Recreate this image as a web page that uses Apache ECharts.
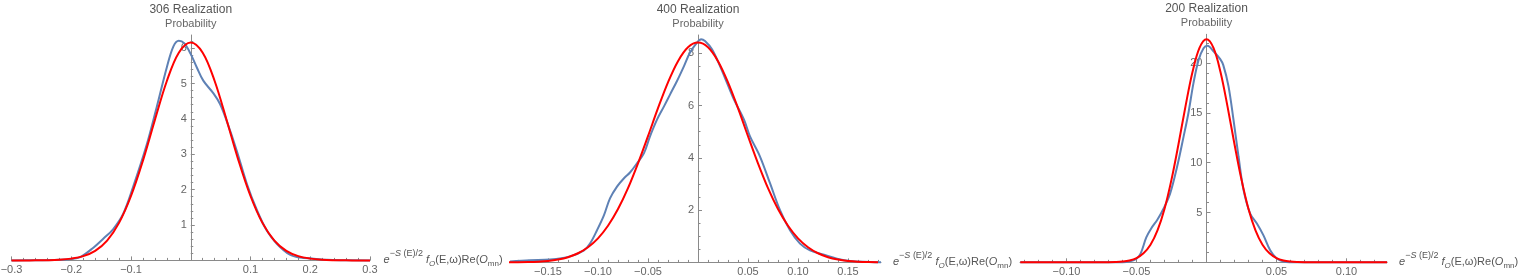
<!DOCTYPE html>
<html>
<head>
<meta charset="utf-8">
<script src="https://cdn.jsdelivr.net/npm/echarts@6/dist/echarts.min.js"></script>
<style>
html,body{margin:0;padding:0;background:#fff;}
#c{width:1518px;height:280px;}
</style>
</head>
<body>
<div id="c"></div>
<script>
// ---------- data ----------
const panelTitles = ['306 Realization', '400 Realization', '200 Realization'];
const yAxisTitle = 'Probability';

// panel 1 : 306 realizations
const xRange306 = [-0.3, 0.3];
const yRange306 = [0, 6.37];
const xTicks306 = [-0.3, -0.2, -0.1, 0.1, 0.2, 0.3];
const yTicks306 = [1, 2, 3, 4, 5, 6];
const blue306X = [-0.30,-0.26,-0.22,-0.20,-0.185,-0.163,-0.146,-0.13,-0.113,-0.096,-0.074,-0.057,-0.040,-0.029,-0.020,-0.011,0,0.010,0.021,0.038,0.049,0.060,0.077,0.094,0.111,0.127,0.144,0.166,0.183,0.206,0.228,0.25,0.30];
const blue306Y = [0,0.005,0.02,0.04,0.09,0.36,0.62,0.88,1.32,2.10,3.25,4.33,5.46,6.05,6.21,6.14,5.83,5.46,5.08,4.72,4.42,3.95,3.10,2.16,1.41,0.85,0.47,0.16,0.08,0.05,0.015,0.003,0];
const red306X = [-0.30,-0.28,-0.26,-0.24,-0.22,-0.20,-0.18,-0.16,-0.14,-0.12,-0.10,-0.08,-0.06,-0.04,-0.02,0,0.02,0.04,0.06,0.08,0.10,0.12,0.14,0.16,0.18,0.20,0.22,0.24,0.26,0.28,0.30];
const red306Y = [0,0,0.002,0.006,0.018,0.05,0.12,0.27,0.56,1.06,1.82,2.82,3.97,5.07,5.87,6.16,5.87,5.07,3.97,2.82,1.82,1.06,0.56,0.27,0.12,0.05,0.018,0.006,0.002,0,0];

// panel 2 : 400 realizations
const xRange400 = [-0.188, 0.183];
const yRange400 = [0, 8.7];
const xTicks400 = [-0.15, -0.10, -0.05, 0.05, 0.10, 0.15];
const yTicks400 = [2, 4, 6, 8];
const blue400X = [-0.188,-0.168,-0.148,-0.128,-0.114,-0.108,-0.101,-0.094,-0.088,-0.081,-0.074,-0.068,-0.061,-0.054,-0.048,-0.041,-0.034,-0.028,-0.021,-0.014,-0.008,-0.001,0.003,0.007,0.014,0.022,0.029,0.036,0.046,0.052,0.062,0.072,0.082,0.092,0.102,0.112,0.126,0.139,0.152,0.172,0.183];
const blue400Y = [0.03,0.08,0.11,0.23,0.46,0.72,1.23,1.81,2.45,2.90,3.22,3.44,3.79,4.18,4.82,5.46,5.97,6.42,6.94,7.51,8.03,8.41,8.54,8.47,8.15,7.51,6.87,6.23,5.46,4.82,4.05,3.03,2.00,1.23,0.72,0.46,0.29,0.14,0.05,0.02,0.01];
const red400X = [-0.19,-0.18,-0.17,-0.16,-0.15,-0.14,-0.13,-0.12,-0.11,-0.10,-0.09,-0.08,-0.07,-0.06,-0.05,-0.04,-0.03,-0.02,-0.01,0,0.01,0.02,0.03,0.04,0.05,0.06,0.07,0.08,0.09,0.10,0.11,0.12,0.13,0.14,0.15,0.16,0.17,0.18];
const red400Y = [0.003,0.006,0.014,0.029,0.057,0.11,0.20,0.35,0.58,0.92,1.40,2.04,2.84,3.79,4.83,5.90,6.89,7.70,8.23,8.41,8.23,7.70,6.89,5.90,4.83,3.79,2.84,2.04,1.40,0.92,0.58,0.35,0.20,0.11,0.057,0.029,0.014,0.006];

// panel 3 : 200 realizations
const xRange200 = [-0.1332, 0.129];
const yRange200 = [0, 22.9];
const xTicks200 = [-0.10, -0.05, 0.05, 0.10];
const yTicks200 = [5, 10, 15, 20];
const blue200X = [-0.133,-0.07,-0.06,-0.0545,-0.05,-0.047,-0.043,-0.0395,-0.035,-0.031,-0.026,-0.021,-0.0164,-0.0129,-0.0093,-0.0057,-0.0021,0.0007,0.005,0.0098,0.012,0.0157,0.0193,0.0229,0.0264,0.0312,0.036,0.0407,0.0455,0.050,0.055,0.06,0.07,0.129];
const blue200Y = [0,0,0.01,0.1,0.35,0.9,2.5,3.4,4.3,5.3,6.9,9.6,12.6,15.0,18.0,20.3,21.5,21.75,21.2,20.4,19.8,17.7,14.3,10.6,7.3,4.9,3.9,2.7,1.2,0.4,0.07,0.01,0,0];
const red200X = [-0.133,-0.09,-0.08,-0.07,-0.065,-0.06,-0.055,-0.05,-0.045,-0.04,-0.035,-0.03,-0.025,-0.02,-0.015,-0.01,-0.005,0,0.005,0.01,0.015,0.02,0.025,0.03,0.035,0.04,0.045,0.05,0.055,0.06,0.065,0.07,0.08,0.09,0.129];
const red200Y = [0,0,0,0.009,0.027,0.073,0.18,0.42,0.90,1.76,3.20,5.36,8.30,11.86,15.66,19.11,21.53,22.4,21.53,19.11,15.66,11.86,8.30,5.36,3.20,1.76,0.90,0.42,0.18,0.073,0.027,0.009,0,0,0];

// ---------- styling / layout ----------
const FONT = '"Liberation Sans", Arial, sans-serif';
const AXIS_COLOR = '#8a8a8a';
const LABEL_COLOR = '#666';
const BLUE = '#5E81B5';
const RED = '#FF0000';

const panels = [
  { title: panelTitles[0], xr: xRange306, yr: yRange306, xt: xTicks306, yt: yTicks306, xStep: 0.02, yStep: 0.2, dec: 1,
    blue: [blue306X, blue306Y], red: [red306X, red306Y], grid: { left: 11.5, top: 35, width: 358.5, height: 225.4 } },
  { title: panelTitles[1], xr: xRange400, yr: yRange400, xt: xTicks400, yt: yTicks400, xStep: 0.01, yStep: 0.5, dec: 2,
    blue: [blue400X, blue400Y], red: [red400X, red400Y], grid: { left: 510, top: 35, width: 371, height: 227.4 } },
  { title: panelTitles[2], xr: xRange200, yr: yRange200, xt: xTicks200, yt: yTicks200, xStep: 0.01, yStep: 1, dec: 2,
    blue: [blue200X, blue200Y], red: [red200X, red200Y], grid: { left: 1020, top: 34.3, width: 367.1, height: 228 } }
];

function minorValues(min, max, step, majors) {
  const out = [];
  const k0 = Math.ceil(min / step - 1e-9), k1 = Math.floor(max / step + 1e-9);
  for (let k = k0; k <= k1; k++) {
    const v = +(k * step).toFixed(6);
    if (Math.abs(v) < 1e-9) continue;
    if (majors.some(m => Math.abs(m - v) < step / 10)) continue;
    out.push(v);
  }
  return out;
}
function zip(xs, ys) { return xs.map((x, i) => [x, ys[i]]); }
function fmt(dec) { return v => (v < 0 ? '\u2212' : '') + Math.abs(v).toFixed(dec); }

const xName = '{ie|e}{sup|\u2212}{supi|S}{sup| (E)/2}{n| }{ie|f}{subi|O}{n|(E,\u03c9)Re(}{ie|O}{sub|mn}{n|)}';
const xNameRich = {
  n: { fontSize: 11, color: '#555', fontFamily: FONT },
  ie: { fontSize: 11, color: '#555', fontStyle: 'italic', fontFamily: FONT },
  sup: { fontSize: 9, color: '#555', padding: [0, 0, 13, 0], fontFamily: FONT },
  supi: { fontSize: 9, color: '#555', fontStyle: 'italic', padding: [0, 0, 13, 0], fontFamily: FONT },
  sub: { fontSize: 8, color: '#555', padding: [6, 0, 0, 0], fontFamily: FONT },
  subi: { fontSize: 8, color: '#555', fontStyle: 'italic', padding: [6, 0, 0, 0], fontFamily: FONT }
};

const grid = [], xAxis = [], yAxis = [], series = [];
panels.forEach((p, i) => {
  grid.push(Object.assign({ containLabel: false, outerBoundsMode: 'none' }, p.grid));
  const lineStyle = { color: AXIS_COLOR, width: 1 };
  // pixel shift that puts the vertical axis at x = 0
  const yOffset = -p.grid.width * (0 - p.xr[0]) / (p.xr[1] - p.xr[0]);
  // main x axis
  xAxis.push({
    gridIndex: i, type: 'value', min: p.xr[0], max: p.xr[1], position: 'bottom',
    axisLine: { show: true, onZero: false, lineStyle },
    axisTick: { show: true, inside: true, length: 4, customValues: p.xt, lineStyle },
    axisLabel: { customValues: p.xt, formatter: fmt(p.dec), margin: 4, fontSize: 11, color: LABEL_COLOR, fontFamily: FONT },
    splitLine: { show: false },
    name: xName, nameLocation: 'end', nameGap: 12,
    nameTextStyle: { fontSize: 11, color: '#555', fontFamily: FONT, rich: xNameRich }
  });
  // minor x ticks
  xAxis.push({
    gridIndex: i, type: 'value', min: p.xr[0], max: p.xr[1], position: 'bottom',
    axisLine: { show: false, onZero: false },
    axisTick: { show: true, inside: true, length: 2.5, customValues: minorValues(p.xr[0], p.xr[1], p.xStep, p.xt), lineStyle },
    axisLabel: { show: false }, splitLine: { show: false }
  });
  // main y axis
  yAxis.push({
    gridIndex: i, type: 'value', min: p.yr[0], max: p.yr[1], position: 'left', offset: yOffset,
    axisLine: { show: true, onZero: false, lineStyle },
    axisTick: { show: true, inside: true, length: 4, customValues: p.yt, lineStyle },
    axisLabel: { customValues: p.yt, formatter: v => String(v), margin: 4, fontSize: 11, color: LABEL_COLOR, fontFamily: FONT },
    splitLine: { show: false },
    name: '{t|' + p.title + '}\n{p|' + yAxisTitle + '}', nameLocation: 'end', nameGap: 4,
    nameTextStyle: {
      align: 'center', fontFamily: FONT,
      rich: {
        t: { fontSize: 12, color: '#555', lineHeight: 15, align: 'center', fontFamily: FONT },
        p: { fontSize: 11, color: '#666', lineHeight: 14, align: 'center', fontFamily: FONT }
      }
    }
  });
  // minor y ticks
  yAxis.push({
    gridIndex: i, type: 'value', min: p.yr[0], max: p.yr[1], position: 'left', offset: yOffset,
    axisLine: { show: false, onZero: false },
    axisTick: { show: true, inside: true, length: 2.5, customValues: minorValues(p.yr[0], p.yr[1], p.yStep, p.yt), lineStyle },
    axisLabel: { show: false }, splitLine: { show: false }
  });
  series.push({
    type: 'line', xAxisIndex: 2 * i, yAxisIndex: 2 * i, data: zip(p.blue[0], p.blue[1]),
    smooth: 0.35, showSymbol: false, clip: false, silent: true,
    lineStyle: { color: BLUE, width: 2 }, z: 2
  });
  series.push({
    type: 'line', xAxisIndex: 2 * i, yAxisIndex: 2 * i, data: zip(p.red[0], p.red[1]),
    smooth: 0.35, showSymbol: false, clip: false, silent: true,
    lineStyle: { color: RED, width: 2 }, z: 3
  });
});

const chart = echarts.init(document.getElementById('c'), null, { renderer: 'canvas' });
chart.setOption({
  animation: false,
  backgroundColor: '#fff',
  textStyle: { fontFamily: FONT },
  grid, xAxis, yAxis, series
});
</script>
</body>
</html>
